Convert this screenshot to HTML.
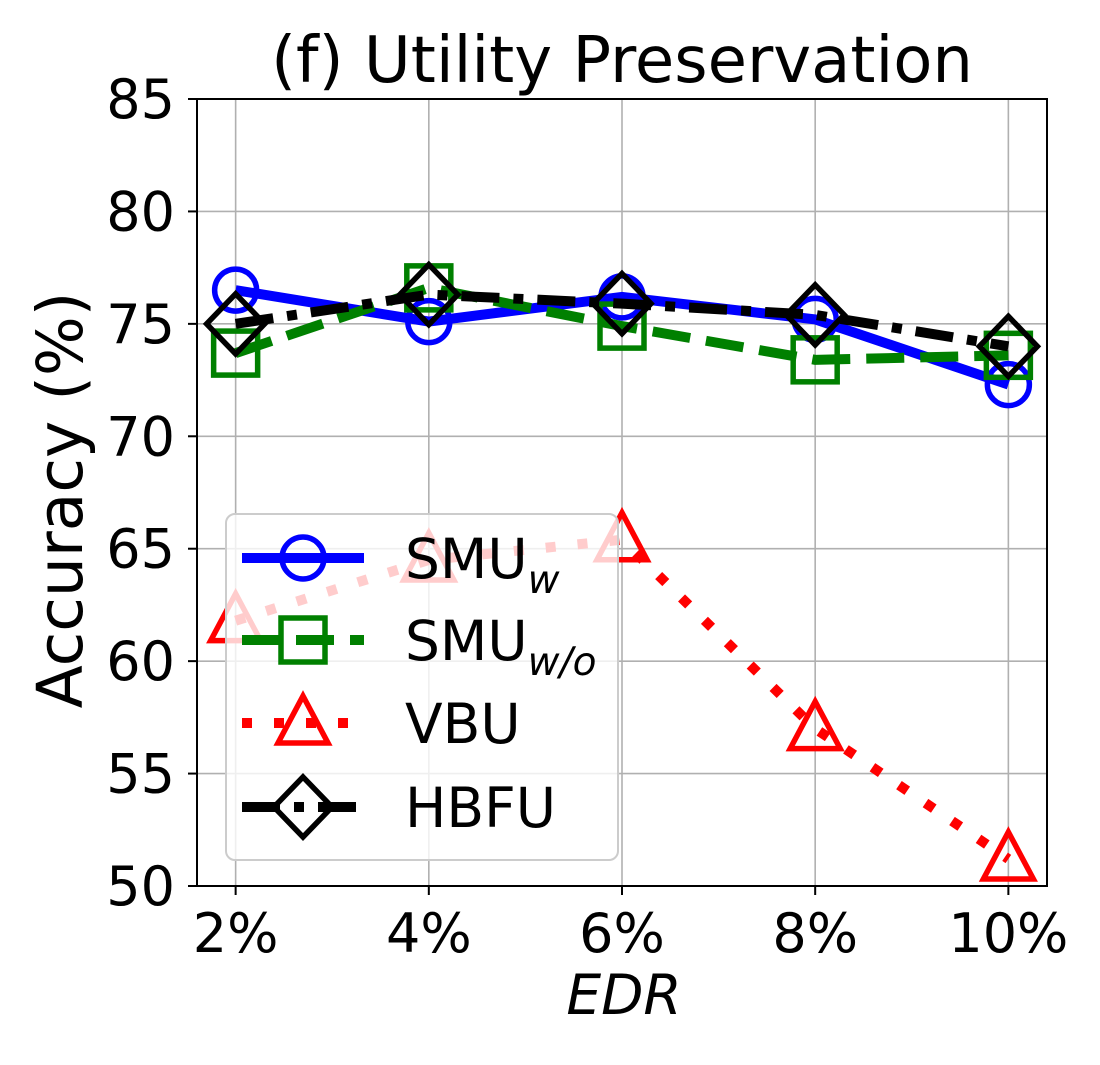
<!DOCTYPE html>
<html><head><meta charset="utf-8"><style>
body{margin:0;background:#fff}
text{font-family:"DejaVu Sans","Liberation Sans",sans-serif}
</style></head><body>
<svg id="chart" width="1100" height="1060" xmlns="http://www.w3.org/2000/svg">
<text x="622" y="82" font-size="64" text-anchor="middle">(f) Utility Preservation</text>
<g id="grid"></g>
<g id="series"></g>
<g id="legend"></g>
<rect x="197" y="99" width="850" height="787" fill="none" stroke="#000" stroke-width="2"/>
<g id="ticks"></g>
<text transform="translate(82,500) rotate(-90)" font-size="63" text-anchor="middle">Accuracy (%)</text>
<text x="624" y="1014" font-size="55" font-style="italic" text-anchor="middle">EDR</text>
</svg>
<script>
const categories=[2,4,6,8,10];
const xTickLabels=["2%","4%","6%","8%","10%"];
const yTicks=[50,55,60,65,70,75,80,85];
const smuW=[76.5,75.1,76.2,75.2,72.3];
const smuWo=[73.7,76.6,74.9,73.4,73.6];
const vbu=[61.8,64.5,65.4,57.0,51.2];
const hbfu=[75.0,76.3,75.9,75.4,74.0];
const NS="http://www.w3.org/2000/svg";
const X0=197,X1=1047,Y0=886,Y1=99;
const xs=v=>X0+(v-1.6)/(10.4-1.6)*(X1-X0);
const ys=v=>Y0-(v-50)/(85-50)*(Y0-Y1);
function mk(tag,attrs,parent){const e=document.createElementNS(NS,tag);for(const k in attrs)e.setAttribute(k,attrs[k]);parent.appendChild(e);return e;}
const grid=document.getElementById('grid'),ticks=document.getElementById('ticks');
yTicks.forEach(t=>{
 const l=mk('line',{x1:X0,x2:X1,y1:ys(t),y2:ys(t),stroke:'#b0b0b0','stroke-width':1.6},grid);
 
 
 mk('line',{x1:X0-9,x2:X0,y1:ys(t),y2:ys(t),stroke:'#000','stroke-width':2},ticks);
 const tx=mk('text',{x:X0-22,y:ys(t)+19,'font-size':54,'text-anchor':'end'},ticks);tx.textContent=t;
 
 
});
categories.forEach((c,i)=>{
 const l=mk('line',{x1:xs(c),x2:xs(c),y1:Y0,y2:Y1,stroke:'#b0b0b0','stroke-width':1.6},grid);
 
 
 mk('line',{x1:xs(c),x2:xs(c),y1:Y0,y2:Y0+9,stroke:'#000','stroke-width':2},ticks);
 const tx=mk('text',{x:xs(c),y:Y0+66,'font-size':54,'text-anchor':'middle'},ticks);tx.textContent=xTickLabels[i];
 
 
});
function marker(type,x,y,color,parent){
 let e;
 if(type==='o')e=mk('circle',{cx:x,cy:y,r:21,fill:'none',stroke:color,'stroke-width':5.5},parent);
 else if(type==='s')e=mk('rect',{x:x-22,y:y-22,width:44,height:44,fill:'none',stroke:color,'stroke-width':5.5},parent);
 else if(type==='^')e=mk('polygon',{points:`${x},${y-27} ${x+25},${y+20} ${x-25},${y+20}`,fill:'none',stroke:color,'stroke-width':5.5},parent);
 else e=mk('polygon',{points:`${x},${y-30} ${x+29},${y} ${x},${y+30} ${x-29},${y}`,fill:'none',stroke:color,'stroke-width':5.5},parent);
 return e;
}
const series=[
 {name:'smu-w',data:smuW,color:'#0000ff',dash:'',m:'o'},
 {name:'smu-wo',data:smuWo,color:'#008000',dash:'38 16',m:'s'},
 {name:'vbu',data:vbu,color:'#ff0000',dash:'10 22',m:'^'},
 {name:'hbfu',data:hbfu,color:'#000000',dash:'38 14 10 14',m:'D'}
];
const sg=document.getElementById('series');
series.forEach(s=>{
 const pts=s.data.map((v,i)=>xs(categories[i])+','+ys(v)).join(' ');
 const pl=mk('polyline',{points:pts,fill:'none',stroke:s.color,'stroke-width':10,'stroke-dasharray':s.dash},sg);
 
 
 s.data.forEach((v,i)=>{
  const m=marker(s.m,xs(categories[i]),ys(v),s.color,sg);
  
  
 });
});
const lg=document.getElementById('legend');
const box=mk('rect',{x:226,y:514,width:392,height:346,rx:9,fill:'#fff','fill-opacity':0.8,stroke:'#cccccc','stroke-width':2},lg);


const rowsY=[558,640,723,807];
const labels=[['SMU','w'],['SMU','w/o'],['VBU',''],['HBFU','']];
series.forEach((s,i)=>{
 const y=rowsY[i];
 const g=mk('g',{},lg);
 
 
 mk('line',{x1:242,x2:364,y1:y,y2:y,stroke:s.color,'stroke-width':10,'stroke-dasharray':s.dash},g);
 marker(s.m,303,y,s.color,g);
 const t=mk('text',{x:405,y:y+20,'font-size':55},g);
 t.textContent=labels[i][0];
 if(labels[i][1]){const ts=mk('tspan',{'font-size':39,'font-style':'italic',dy:15},t);ts.textContent=labels[i][1];}
});
</script>
</body></html>
